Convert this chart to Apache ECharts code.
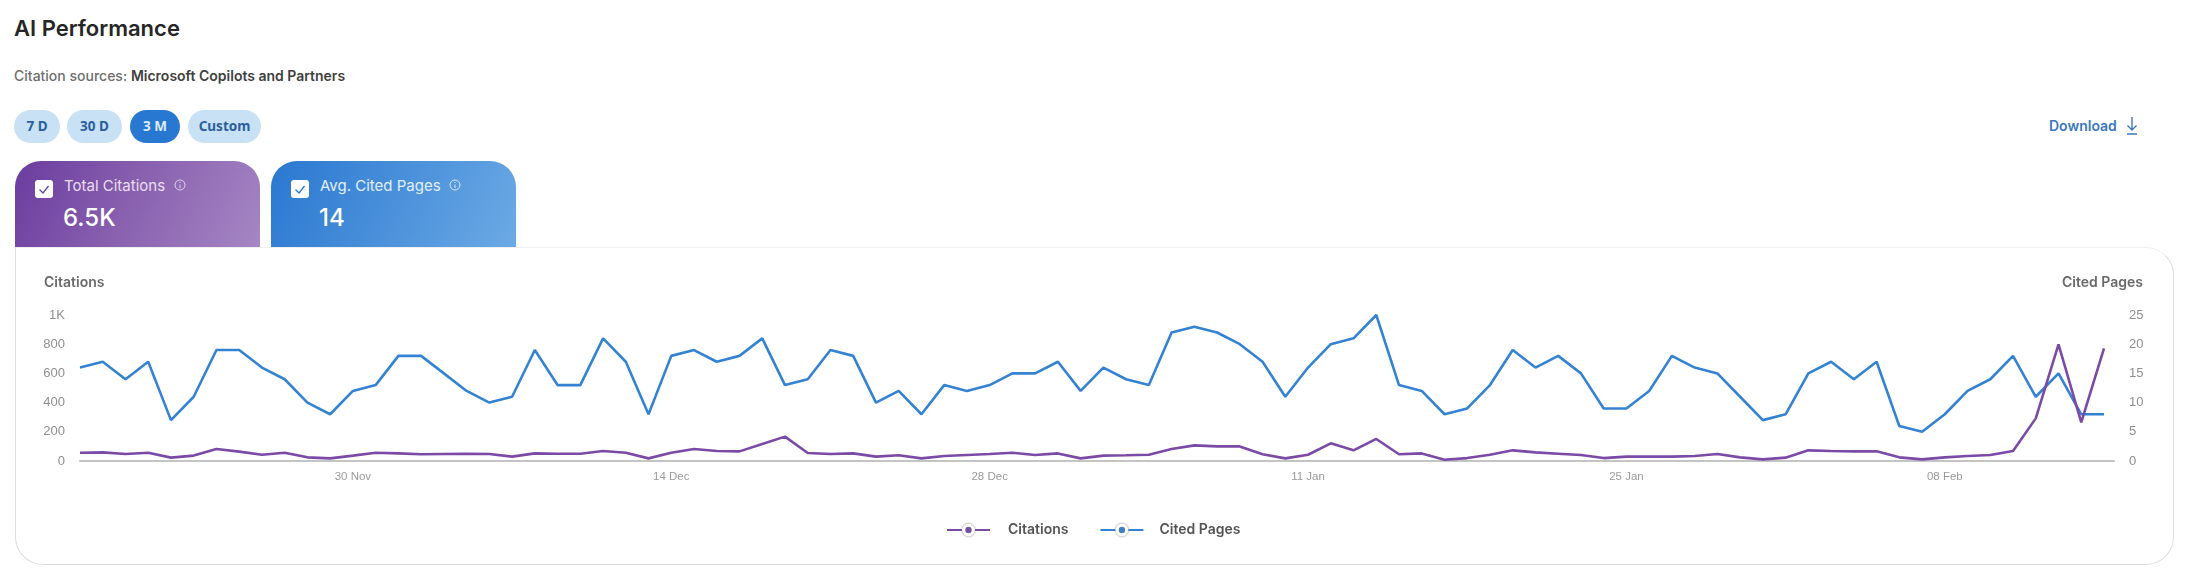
<!DOCTYPE html>
<html><head><meta charset="utf-8">
<script src="https://cdn.jsdelivr.net/npm/echarts@6/dist/echarts.min.js"></script>
<style>
html,body{margin:0;padding:0;background:#fff;width:2186px;height:576px;overflow:hidden;font-family:Inter,"Noto Sans",sans-serif}
.abs{position:absolute;white-space:nowrap}
.pill{position:absolute;top:110px;height:33px;border-radius:17px;background:#c8e1f5;color:#2a5f9f;font:700 13.5px/33px "Noto Sans",Inter,sans-serif;text-align:center}
.pill.on{background:#2877d0;color:#dcebfb}
.tab{position:absolute;top:161px;width:245px;height:86px;border-radius:26px 26px 0 0}
.tick{position:absolute;top:180px;width:18px;height:18px;border-radius:3px;background:#fff}
.card{position:absolute;left:15px;top:247px;width:2157px;height:316px;border:1px solid #dcdcdc;border-radius:0 28px 28px 28px;border-top-color:#efefef;box-sizing:content-box}
#chart{position:absolute;left:0;top:0;width:2186px;height:576px}
</style></head><body>
<div class="abs" style="left:14px;top:13px;font:600 22px/30px Inter,sans-serif;color:#262626">AI Performance</div>
<div class="abs" style="left:14px;top:66px;font:500 14px/20px Inter,sans-serif;color:#6e6e6e">Citation sources: <span style="font-weight:600;color:#3f3f3f">Microsoft Copilots and Partners</span></div>
<div class="pill" style="left:14px;width:46px">7 D</div>
<div class="pill" style="left:67px;width:55px">30 D</div>
<div class="pill on" style="left:130px;width:50px">3 M</div>
<div class="pill" style="left:188px;width:73px">Custom</div>
<div class="abs" style="left:2049px;top:116px;font:600 14px/20px Inter,sans-serif;color:#3b77bd">Download</div>
<svg class="abs" style="left:2124px;top:116px" width="16" height="20" viewBox="0 0 16 20" fill="none" stroke="#3b77bd" stroke-width="1.4"><path d="M8 1V14M3.5 9.5L8 14L12.5 9.5M3 18H13"/></svg>
<div class="card"></div>
<div class="tab" style="left:15px;background:linear-gradient(115deg,#6b3c9f 0%,#8a63b0 50%,#a686c4 100%)"></div>
<div class="tab" style="left:271px;background:linear-gradient(115deg,#2a78d1 0%,#4a90da 50%,#6caae5 100%)"></div>
<div class="tick" style="left:35px"><svg width="18" height="18" fill="none" stroke="#5b4a9f" stroke-width="1.3"><path d="M4.5 9.5L8 13L13.5 6"/></svg></div>
<div class="tick" style="left:291px"><svg width="18" height="18" fill="none" stroke="#2a78d1" stroke-width="1.3"><path d="M4.5 9.5L8 13L13.5 6"/></svg></div>
<div class="abs" style="left:64px;top:176px;font:400 15px/20px Inter,sans-serif;color:#eadff4">Total Citations</div>
<div class="abs" style="left:320px;top:176px;font:400 15px/20px Inter,sans-serif;color:#e3f0fc">Avg. Cited Pages</div>
<svg class="abs" style="left:174px;top:179px" width="12" height="12" fill="none" stroke="#e0d2ee" stroke-width="1"><circle cx="6" cy="6" r="5"/><path d="M6 5.5V9M6 3V4"/></svg>
<svg class="abs" style="left:449px;top:179px" width="12" height="12" fill="none" stroke="#d8eafb" stroke-width="1"><circle cx="6" cy="6" r="5"/><path d="M6 5.5V9M6 3V4"/></svg>
<div class="abs" style="left:63px;top:202px;font:500 24px/32px Inter,sans-serif;color:#fff">6.5K</div>
<div class="abs" style="left:319px;top:202px;font:500 24px/32px Inter,sans-serif;color:#fff">14</div>
<div id="chart"></div>
<script>
const tickIndexes = [12, 26, 40, 54, 68, 82];
const tickLabels = ['30 Nov', '14 Dec', '28 Dec', '11 Jan', '25 Jan', '08 Feb'];
const leftTicks = ['0', '200', '400', '600', '800', '1K'];
const citations = [57,59,48,57,23,37,82,64,43,57,25,18,37,57,52,46,48,50,48,30,52,50,50,68,57,18,57,82,68,66,117,167,55,48,52,30,39,18,34,41,48,57,41,52,18,37,39,43,82,107,100,100,46,18,43,121,73,151,46,52,9,20,43,73,59,50,41,20,30,30,30,34,48,25,11,23,73,68,66,66,25,11,25,34,41,68,292,799,265,772];
const citedPages = [16,17,14,17,7,11,19,19,16,14,10,8,12,13,18,18,15,12,10,11,19,13,13,21,17,8,18,19,17,18,21,13,14,19,18,10,12,8,13,12,13,15,15,17,12,16,14,13,22,23,22,20,17,11,16,20,21,25,13,12,8,9,13,19,16,18,15,9,9,12,18,16,15,11,7,8,15,17,14,17,6,5,8,12,14,18,11,15,8,8];

const pts = a => a.map((v, i) => [i, v]);
const chart = echarts.init(document.getElementById('chart'), null, {renderer: 'canvas'});
const labelFont = {color: '#8f8f8f', fontSize: 13, fontFamily: '"Liberation Sans",Arial,sans-serif', margin: 15};
chart.setOption({
  animation: false,
  backgroundColor: 'transparent',
  grid: {left: 80, right: 72, top: 315, bottom: 115, containLabel: false},
  graphic: [
    {type: 'text', left: 44, top: 276, style: {text: 'Citations', font: '600 14px Inter,sans-serif', fill: '#6a6a6a'}},
    {type: 'text', right: 43, top: 276, style: {text: 'Cited Pages', font: '600 14px Inter,sans-serif', fill: '#6a6a6a'}}
  ],
  legend: {
    left: 941, top: 518, itemWidth: 43, itemHeight: 12, itemGap: 31,
    data: ['Citations', {name: 'Cited Pages', textStyle: {padding: [0, 0, 0, 11]}}],
    textStyle: {color: '#555', fontSize: 14, fontWeight: 600, fontFamily: 'Inter,sans-serif', padding: [0, 0, 0, 13]},
    itemStyle: {borderColor: '#fff', borderWidth: 3.2, shadowColor: '#777', shadowBlur: 2}
  },
  xAxis: {
    type: 'value', min: 0, max: 89.44,
    splitLine: {show: false},
    axisLine: {show: true, onZero: false, lineStyle: {color: '#c4c4c4', width: 2}},
    axisTick: {show: false},
    axisLabel: {
      customValues: tickIndexes,
      color: '#9a9a9a', fontSize: 11.5, margin: 10, fontFamily: '"Liberation Sans",Arial,sans-serif',
      formatter: v => tickLabels[tickIndexes.indexOf(v)] || ''
    }
  },
  yAxis: [
    {type: 'value', min: 0, max: 1000, interval: 200, splitLine: {show: false}, axisLine: {show: false}, axisTick: {show: false},
     axisLabel: Object.assign({}, labelFont, {formatter: (v) => leftTicks[v / 200]})},
    {type: 'value', min: 0, max: 25, interval: 5, position: 'right', splitLine: {show: false}, axisLine: {show: false}, axisTick: {show: false},
     axisLabel: labelFont}
  ],
  series: [
    {name: 'Citations', type: 'line', yAxisIndex: 0, z: 3, data: pts(citations), showSymbol: false, symbol: 'circle', symbolSize: 10,
     lineStyle: {color: '#7a4aa6', width: 2.6}, itemStyle: {color: '#7a4aa6'}},
    {name: 'Cited Pages', type: 'line', yAxisIndex: 1, z: 2, data: pts(citedPages), showSymbol: false, symbol: 'circle', symbolSize: 10,
     lineStyle: {color: '#3483d2', width: 2.6}, itemStyle: {color: '#3483d2'}}
  ]
});
</script>
</body></html>
